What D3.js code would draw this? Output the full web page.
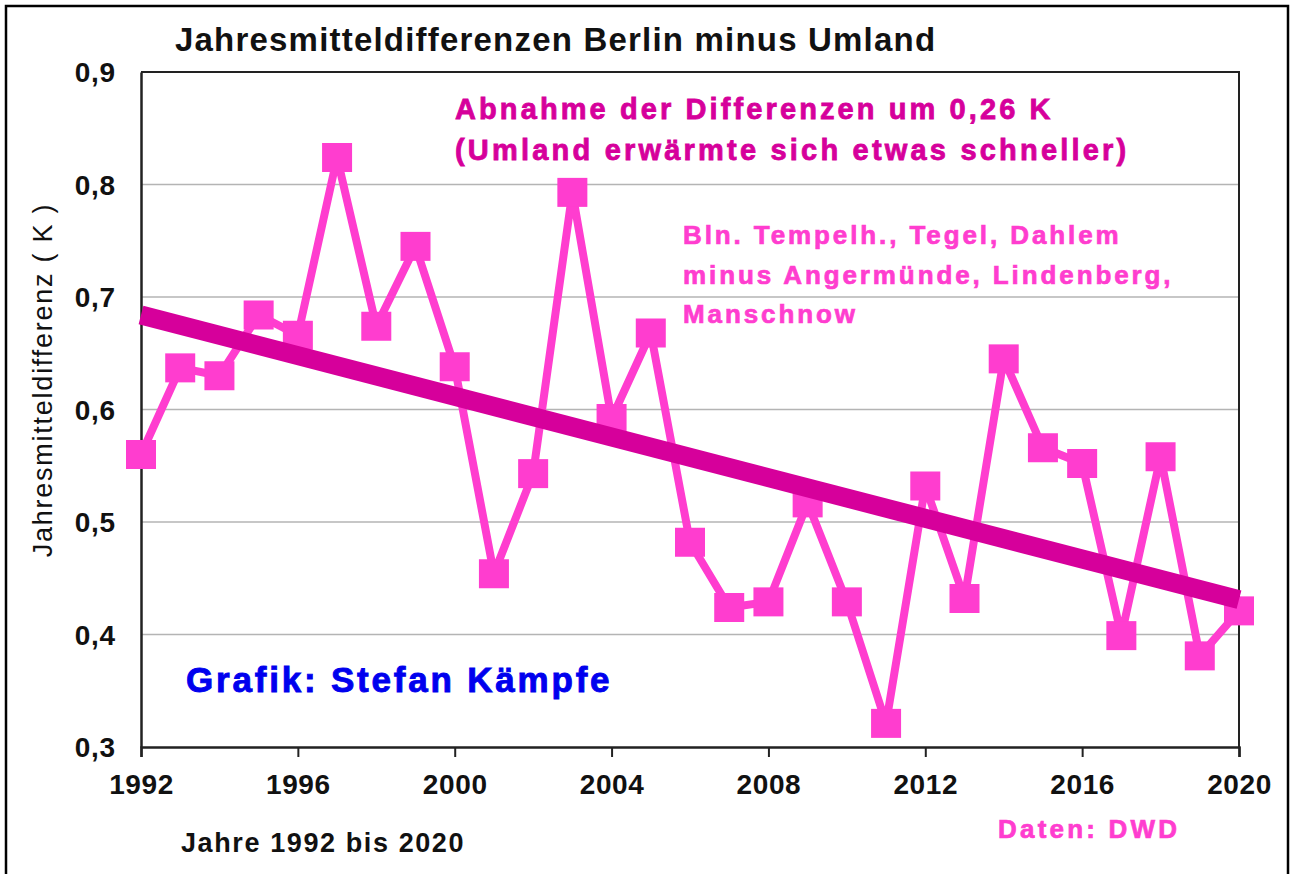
<!DOCTYPE html>
<html>
<head>
<meta charset="utf-8">
<script src="https://cdn.jsdelivr.net/npm/d3@7"></script>
<style>
  body { margin: 0; background: #fff; }
  text { font-family: "Liberation Sans", Arial, sans-serif; }
</style>
</head>
<body>
<div class="chart"></div>
<script>
var years = [1992, 1993, 1994, 1995, 1996, 1997, 1998, 1999, 2000, 2001,
             2002, 2003, 2004, 2005, 2006, 2007, 2008, 2009, 2010, 2011,
             2012, 2013, 2014, 2015, 2016, 2017, 2018, 2019, 2020]
var diffs = [0.560, 0.637, 0.630, 0.684, 0.666, 0.824, 0.674, 0.745, 0.638, 0.454,
             0.543, 0.793, 0.592, 0.668, 0.482, 0.424, 0.429, 0.517, 0.429, 0.321,
             0.532, 0.432, 0.645, 0.566, 0.552, 0.399, 0.558, 0.381, 0.421]
var trendYears = [1992, 2020]
var trendValues = [0.684, 0.431]
var xTickYears = [1992, 1996, 2000, 2004, 2008, 2012, 2016, 2020]
var yTickValues = [0.3, 0.4, 0.5, 0.6, 0.7, 0.8, 0.9]

var pink = "#ff3dcf"
var magenta = "#d6009b"

var svg = d3.select(".chart")
  .append("svg")
  .attr("width", 1291)
  .attr("height", 874)

// outer frame
svg.append("rect")
  .attr("x", 6)
  .attr("y", 6)
  .attr("width", 1282)
  .attr("height", 880)
  .style("fill", "none")
  .style("stroke", "black")
  .style("stroke-width", 2.5)

var x = d3.scaleLinear().domain([1992, 2020]).range([141, 1239])
var y = d3.scaleLinear().domain([0.3, 0.9]).range([747, 72])

var de = d3.formatLocale({ decimal: ",", thousands: ".", grouping: [3], currency: ["", " €"] })
var fmt = de.format(".1f")

// grid
svg.append("g")
  .selectAll("line")
  .data(yTickValues.filter(d => d > 0.3 && d < 0.9))
  .join("line")
  .attr("x1", x(1992))
  .attr("x2", x(2020))
  .attr("y1", d => y(d))
  .attr("y2", d => y(d))
  .style("stroke", "#b4b4b4")
  .style("stroke-width", 1.5)

// plot frame top + right
svg.append("path")
  .attr("d", "M" + x(1992) + "," + y(0.9) + "H" + x(2020) + "V" + y(0.3))
  .style("fill", "none")
  .style("stroke", "#222")
  .style("stroke-width", 2)

var xAxis = svg.append("g")
  .attr("transform", "translate(0," + y(0.3) + ")")
  .call(d3.axisBottom(x).tickValues(xTickYears).tickFormat(d3.format("d")).tickSize(10).tickPadding(10))
xAxis.select(".domain").style("stroke", "#222").style("stroke-width", 2.5)
xAxis.selectAll(".tick line").style("stroke", "#222").style("stroke-width", 2)
xAxis.selectAll(".tick text")
  .attr("y", 47)
  .attr("dy", 0)
  .style("font-size", "28px")
  .style("font-weight", "bold")
  .style("letter-spacing", "0.6px")
  .style("fill", "#111")
  .attr("font-family", "Liberation Sans, Arial, sans-serif")

var yAxis = svg.append("g")
  .attr("transform", "translate(" + x(1992) + ",0)")
  .call(d3.axisLeft(y).tickValues(yTickValues).tickFormat(fmt).tickSize(0).tickPadding(25))
yAxis.select(".domain").style("stroke", "#222").style("stroke-width", 2.5)
yAxis.selectAll(".tick text")
  .attr("dy", "0.35em")
  .style("font-size", "28px")
  .style("font-weight", "bold")
  .style("letter-spacing", "0.8px")
  .style("fill", "#111")
  .attr("font-family", "Liberation Sans, Arial, sans-serif")

// data line
var line = d3.line()
  .x((d, i) => x(years[i]))
  .y(d => y(d))

svg.append("path")
  .datum(diffs)
  .attr("d", line)
  .style("fill", "none")
  .style("stroke", pink)
  .style("stroke-width", 8)
  .style("stroke-linejoin", "round")

svg.append("g")
  .selectAll("rect")
  .data(diffs)
  .join("rect")
  .attr("x", (d, i) => x(years[i]) - 15)
  .attr("y", d => y(d) - 14.5)
  .attr("width", 30)
  .attr("height", 29)
  .style("fill", pink)

// trend line
svg.append("line")
  .attr("x1", x(trendYears[0]))
  .attr("y1", y(trendValues[0]))
  .attr("x2", x(trendYears[1]))
  .attr("y2", y(trendValues[1]))
  .style("stroke", magenta)
  .style("stroke-width", 19)

// texts
svg.append("text")
  .attr("x", 175)
  .attr("y", 51)
  .text("Jahresmitteldifferenzen Berlin minus Umland")
  .style("font-size", "33px")
  .style("font-weight", "bold")
  .style("letter-spacing", "1.2px")
  .style("fill", "#111")

svg.append("text")
  .attr("transform", "translate(52,380) rotate(-90)")
  .attr("text-anchor", "middle")
  .text("Jahresmitteldifferenz ( K )")
  .style("font-size", "27px")
  .style("letter-spacing", "1.75px")
  .style("fill", "#111")

svg.append("text")
  .attr("x", 455)
  .attr("y", 119)
  .text("Abnahme der Differenzen um 0,26 K")
  .style("font-size", "29px")
  .style("font-weight", "bold")
  .style("letter-spacing", "3.1px")
  .style("fill", magenta)
  .style("stroke", magenta)
  .style("stroke-width", 0.8)

svg.append("text")
  .attr("x", 455)
  .attr("y", 160)
  .text("(Umland erwärmte sich etwas schneller)")
  .style("font-size", "29px")
  .style("font-weight", "bold")
  .style("letter-spacing", "3.2px")
  .style("fill", magenta)
  .style("stroke", magenta)
  .style("stroke-width", 0.8)

var stations = ["Bln. Tempelh., Tegel, Dahlem", "minus Angermünde, Lindenberg,", "Manschnow"]
svg.append("g")
  .selectAll("text")
  .data(stations)
  .join("text")
  .attr("x", 683)
  .attr("y", (d, i) => 244 + i * 39.5)
  .text(d => d)
  .style("font-size", "26px")
  .style("font-weight", "bold")
  .style("letter-spacing", "2.9px")
  .style("fill", pink)
  .style("stroke", pink)
  .style("stroke-width", 0.7)

svg.append("text")
  .attr("x", 186)
  .attr("y", 692)
  .text("Grafik: Stefan Kämpfe")
  .style("font-size", "35px")
  .style("font-weight", "bold")
  .style("letter-spacing", "2.8px")
  .style("fill", "#0000ee")
  .style("stroke", "#0000ee")
  .style("stroke-width", 0.9)

svg.append("text")
  .attr("x", 181)
  .attr("y", 852)
  .text("Jahre 1992 bis 2020")
  .style("font-size", "27px")
  .style("font-weight", "bold")
  .style("letter-spacing", "1.6px")
  .style("fill", "#111")

svg.append("text")
  .attr("x", 998)
  .attr("y", 838)
  .text("Daten: DWD")
  .style("font-size", "26px")
  .style("font-weight", "bold")
  .style("letter-spacing", "3.2px")
  .style("fill", pink)
  .style("stroke", pink)
  .style("stroke-width", 0.7)
</script>
</body>
</html>
